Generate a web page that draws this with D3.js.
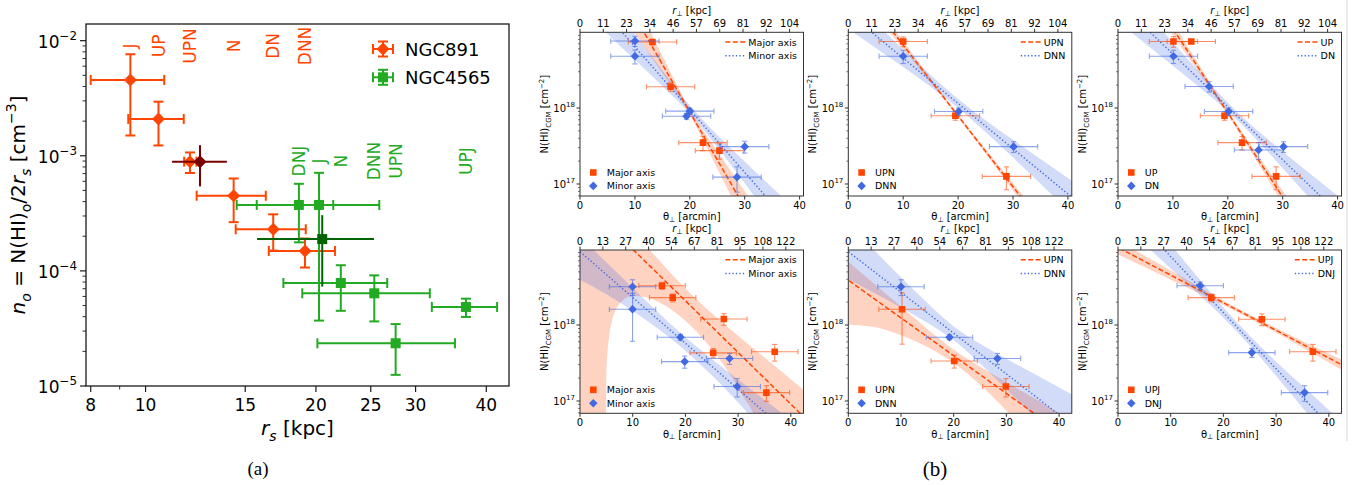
<!DOCTYPE html>
<html>
<head>
<meta charset="utf-8">
<script src="https://cdn.jsdelivr.net/npm/d3@7"></script>
<style>
  body { margin: 0; background: #fff; }
  svg { display: block; font-family: "DejaVu Sans", sans-serif; }
</style>
</head>
<body>
<div id="chart"></div>
<script>
// ---------- (a) n_o against r_s ----------
const n891Names = ["J", "UP", "UPN", "N", "DN", "DNN"];
const n891R     = [9.40, 10.54, 11.98, 14.31, 16.81, 19.13];
const n891RLo   = [8.00, 9.32, 11.70, 12.31, 14.43, 16.51];
const n891RHi   = [10.79, 11.68, 12.30, 16.31, 19.19, 21.61];
const n891N     = [4.56e-3, 2.09e-3, 8.89e-4, 4.50e-4, 2.30e-4, 1.49e-4];
const n891NErr  = [3.06e-3, 0.86e-3, 1.80e-4, 1.85e-4, 0.80e-4, 0.42e-4];
const n891AllR  = [12.48, 11.14, 13.92];   // value, low, high
const n891AllN  = [8.89e-4, 3.47e-4];      // value, error

const n4565Names = ["DNJ", "J", "N", "DNN", "UPN", "UPJ"];
const n4565R     = [18.66, 20.25, 22.13, 25.36, 27.66, 36.82];
const n4565RLo   = [14.49, 15.72, 17.52, 18.92, 20.12, 32.05];
const n4565RHi   = [21.46, 25.88, 26.73, 31.79, 35.21, 41.80];
const n4565N     = [3.74e-4, 3.74e-4, 7.85e-5, 6.39e-5, 2.35e-5, 4.86e-5];
const n4565NErr  = [1.97e-4, 3.37e-4, 3.35e-5, 2.75e-5, 1.10e-5, 0.88e-5];
const n4565AllR  = [20.52, 15.74, 25.33];
const n4565AllN  = [1.89e-4, 1.16e-4];

const aXTicks = [8, 10, 15, 20, 25, 30, 40];
const aXMinor = [9];
const aLabelY891 = 9e-3, aLabelY4565 = 9e-4;

// ---------- (b) N(HI)_CGM against theta ----------
const thetaErr = 4.4;
const bXTicks = [0, 10, 20, 30, 40];
const kpcTop    = ["0", "11", "23", "34", "46", "57", "69", "81", "92", "104"];
const kpcBottom = ["0", "13", "27", "40", "54", "67", "81", "95", "108", "122"];
const bandTh = [0, 5, 10, 15, 20, 25, 30, 35, 40, 45];

// panel 1: major vs minor axis
const p1Names = ["Major axis", "Minor axis"];
const p1ATh = [13.2, 16.5, 22.4, 25.4];
const p1AN  = [7.4e18, 1.9e18, 3.5e17, 2.75e17];
const p1AErr = [0.6e18, 0.24e18, 0.75e17, 0.63e17];
const p1BTh = [10.0, 10.0, 20.0, 19.4, 30.0, 28.6];
const p1BN  = [7.6e18, 4.8e18, 9.1e17, 7.8e17, 3.1e17, 1.23e17];
const p1BErr = [1.15e18, 1.0e18, 0.8e17, 0.7e17, 0.55e17, 0.45e17];
const p1AFit = [[11.64, 9.91e18], [28.8, 6.95e16]];
const p1BFit = [[7.7, 9.91e18], [33.76, 6.95e16]];
const p1AW = [.42, .317, .214, .114, .04, .114, .214, .317, .42, .53];
const p1BW = [.32, .245, .172, .103, .052, .078, .142, .215, .29, .365];

// panel 2: UPN vs DNN
const p2Names = ["UPN", "DNN"];
const p2ATh = [10.0, 19.5, 28.8];
const p2AN  = [7.5e18, 7.9e17, 1.26e17];
const p2AErr = [1.1e18, 1.0e17, 0.42e17];
const p2BTh = [10.0, 20.1, 30.1];
const p2BN  = [4.8e18, 9.0e17, 3.1e17];
const p2BErr = [0.95e18, 1.0e17, 0.5e17];
const p2AFit = [[8.2, 9.91e18], [31.3, 6.95e16]];
const p2BFit = [[4.27, 9.91e18], [40.15, 7.24e16]];
const p2AW = [.094, .072, .05, .031, .02, .031, .05, .072, .094, .117];
const p2BW = [.209, .162, .117, .078, .06, .078, .117, .162, .209, .257];

// panel 3: UP vs DN
const p3Names = ["UP", "DN"];
const p3ATh = [10.1, 13.35, 19.4, 22.6, 28.8];
const p3AN  = [7.5e18, 7.5e18, 7.9e17, 3.5e17, 1.26e17];
const p3AErr = [1.2e18, 0.5e18, 1.0e17, 0.7e17, 0.42e17];
const p3BTh = [10.1, 16.6, 20.15, 25.6, 30.15];
const p3BN  = [4.8e18, 1.92e18, 9.0e17, 2.8e17, 3.1e17];
const p3BErr = [0.95e18, 0.3e18, 1.0e17, 0.7e17, 0.5e17];
const p3AFit = [[10.44, 9.91e18], [29.87, 6.95e16]];
const p3BFit = [[5.88, 9.91e18], [36.85, 6.95e16]];
const p3AW = [.158, .12, .084, .05, .03, .05, .084, .12, .158, .197];
const p3BW = [.27, .211, .153, .098, .056, .063, .11, .165, .222, .281];

// panel 4: major vs minor axis (second galaxy)
const p4Names = ["Major axis", "Minor axis"];
const p4ATh = [15.56, 17.59, 27.3, 25.27, 36.95, 35.37];
const p4AN  = [3.29e18, 2.29e18, 1.2e18, 4.3e17, 4.45e17, 1.29e17];
const p4AErr = [0.35e18, 0.27e18, 0.21e18, 0.6e17, 1.1e17, 0.3e17];
const p4BTh = [9.97, 9.97, 19.05, 19.87, 28.38, 29.84];
const p4BN  = [3.19e18, 1.61e18, 6.9e17, 3.3e17, 3.63e17, 1.55e17];
const p4BErr = [0.75e18, 1.0e18, 0.6e17, 0.6e17, 0.6e17, 0.42e17];
const p4AFit = [[10.16, 9.70e18], [41.46, 7.24e16]];
const p4BFit = [[0, 9.23e18], [35.24, 6.92e16]];
const p4ABandTh = [0, 4.8, 5, 5.5, 6, 7, 8, 10, 15, 20, 25, 30, 35, 40, 45];
const p4ALo = [-9, -9, -2.0, -1.47, -1.24, -.975, -.817, -.614, -.358, -.263, -.298, -.469, -.92, -9, -9];
const p4AHi = [.35, .301, .299, .294, .288, .277, .267, .245, .194, .163, .175, .22, .274, .327, .376];
const p4BLo = [-.37, -.26, -.177, -.12, -.097, -.12, -.177, -.26, -.37, -.523];
const p4BHi = [.197, .161, .126, .094, .079, .094, .126, .161, .197, .23];

// panel 5: UPN vs DNN
const p5Names = ["UPN", "DNN"];
const p5ATh = [10.2, 20.1, 29.9];
const p5AN  = [1.61e18, 3.36e17, 1.55e17];
const p5AErr = [1.05e18, 0.65e17, 0.42e17];
const p5BTh = [10.0, 19.2, 28.3];
const p5BN  = [3.19e18, 6.9e17, 3.63e17];
const p5BErr = [0.75e18, 0.5e17, 0.6e17];
const p5AFit = [[0, 3.89e18], [35.2, 6.92e16]];
const p5BFit = [[0, 9.23e18], [39.6, 6.92e16]];
const p5ALo = [-.585, -.368, -.228, -.135, -.097, -.135, -.228, -.368, -.585, -1.06];
const p5AHi = [.241, .196, .149, .103, .079, .103, .149, .196, .241, .282];
const p5BW = [.36, .28, .2, .13, .09, .13, .2, .28, .36, .445];

// panel 6: UPJ vs DNJ
const p6Names = ["UPJ", "DNJ"];
const p6ATh = [17.7, 27.3, 36.97];
const p6AN  = [2.29e18, 1.19e18, 4.45e17];
const p6AErr = [0.27e18, 0.21e18, 1.1e17];
const p6BTh = [15.6, 25.4, 35.4];
const p6BN  = [3.29e18, 4.33e17, 1.29e17];
const p6BErr = [0.4e18, 0.6e17, 0.3e17];
const p6AFit = [[1.27, 9.42e18], [42.35, 3.02e17]];
const p6BFit = [[8.85, 9.70e18], [37.9, 6.92e16]];
const p6AW = [.092, .076, .06, .043, .03, .025, .03, .043, .06, .076];
const p6BW = [.26, .208, .157, .108, .068, .064, .094, .145, .197, .25];

// ---------- setup ----------
const W = 1368, H = 485;
const orange = "#ff4500", green = "#22aa22", darkRed = "#7a0000", darkGreen = "#006400", blue = "#4169e1";
const ink = "#1a1a1a";

const svg = d3.select("#chart").append("svg")
  .attr("width", W).attr("height", H);

// text with sub / superscripts, parts: {t, it, sub, sup}
function rich(sel, parts, size, subK = 0.28) {
  let shift = 0;
  parts.forEach(p => {
    const ts = sel.append("tspan").text(p.t);
    const target = p.sub ? size * subK : p.sup ? -size * 0.45 : 0;
    if (target !== shift) { ts.attr("dy", target - shift); shift = target; }
    if (p.sub || p.sup) ts.attr("font-size", size * 0.7);
    if (p.it) ts.attr("font-style", "italic");
  });
}

function errbar(g, cx, cy, xl, xr, yt, yb, color, cap, lw, op) {
  const e = g.append("g").attr("stroke", color).attr("stroke-width", lw).attr("opacity", op);
  e.append("line").attr("x1", xl).attr("x2", xr).attr("y1", cy).attr("y2", cy);
  e.append("line").attr("x1", cx).attr("x2", cx).attr("y1", yt).attr("y2", yb);
  if (cap > 0) {
    e.append("line").attr("x1", xl).attr("x2", xl).attr("y1", cy - cap).attr("y2", cy + cap);
    e.append("line").attr("x1", xr).attr("x2", xr).attr("y1", cy - cap).attr("y2", cy + cap);
    e.append("line").attr("x1", cx - cap).attr("x2", cx + cap).attr("y1", yt).attr("y2", yt);
    e.append("line").attr("x1", cx - cap).attr("x2", cx + cap).attr("y1", yb).attr("y2", yb);
  }
}

const diamond = s => `M0,${-s}L${s},0L0,${s}L${-s},0Z`;
const square = s => `M${-s},${-s}H${s}V${s}H${-s}Z`;

// ---------- panel (a) ----------
const ax = { left: 86, right: 509, top: 24, bottom: 386 };
const xA = d3.scaleLog().domain([7.848, 43.87]).range([ax.left, ax.right]);
const yA = d3.scaleLog().domain([1e-5, 0.01396]).range([ax.bottom, ax.top]);
const ga = svg.append("g");

// x ticks
aXTicks.concat(aXMinor).forEach(v => {
  const major = aXTicks.includes(v);
  ga.append("line").attr("x1", xA(v)).attr("x2", xA(v))
    .attr("y1", ax.bottom).attr("y2", ax.bottom + (major ? 6 : 3.5))
    .attr("stroke", ink).attr("stroke-width", major ? 1.2 : 0.9);
  if (major) ga.append("text").attr("x", xA(v)).attr("y", ax.bottom + 25)
    .attr("text-anchor", "middle").attr("font-size", 17).text(v);
});
// y ticks
[-5, -4, -3, -2].forEach(e => {
  for (let m = 1; m < 10; m++) {
    const v = m * Math.pow(10, e);
    if (v > yA.domain()[1]) break;
    ga.append("line").attr("x1", ax.left).attr("x2", ax.left - (m === 1 ? 6 : 3.5))
      .attr("y1", yA(v)).attr("y2", yA(v))
      .attr("stroke", ink).attr("stroke-width", m === 1 ? 1.2 : 0.9);
  }
  const t = ga.append("text").attr("x", ax.left - 9).attr("y", yA(Math.pow(10, e)) + 7)
    .attr("text-anchor", "end").attr("font-size", 17);
  rich(t, [{ t: "10" }, { t: "\u2212" + (-e), sup: true }], 17);
});

// labels of the sightlines
function segLabels(names, rs, yv, color) {
  names.forEach((n, i) => {
    ga.append("text")
      .attr("transform", `translate(${xA(rs[i])},${yA(yv)}) rotate(-90)`)
      .attr("text-anchor", "middle").attr("dy", "0.36em")
      .attr("font-size", 17).attr("fill", color).text(n);
  });
}
segLabels(n891Names, n891R, aLabelY891, orange);
segLabels(n4565Names, n4565R, aLabelY4565, green);

// error bars + markers
function seriesA(rs, lo, hi, ns, errs, color, shape, size) {
  rs.forEach((r, i) => {
    errbar(ga, xA(r), yA(ns[i]), xA(lo[i]), xA(hi[i]),
      yA(ns[i] + errs[i]), yA(ns[i] - errs[i]), color, 5, 2, 1);
  });
  rs.forEach((r, i) => {
    ga.append("path").attr("d", shape(size))
      .attr("transform", `translate(${xA(r)},${yA(ns[i])})`).attr("fill", color);
  });
}
seriesA(n891R, n891RLo, n891RHi, n891N, n891NErr, orange, diamond, 6.5);
seriesA(n4565R, n4565RLo, n4565RHi, n4565N, n4565NErr, green, square, 5);
// combined points, no caps
errbar(ga, xA(n891AllR[0]), yA(n891AllN[0]), xA(n891AllR[1]), xA(n891AllR[2]),
  yA(n891AllN[0] + n891AllN[1]), yA(n891AllN[0] - n891AllN[1]), darkRed, 0, 2, 1);
ga.append("path").attr("d", diamond(6.5))
  .attr("transform", `translate(${xA(n891AllR[0])},${yA(n891AllN[0])})`).attr("fill", darkRed);
errbar(ga, xA(n4565AllR[0]), yA(n4565AllN[0]), xA(n4565AllR[1]), xA(n4565AllR[2]),
  yA(n4565AllN[0] + n4565AllN[1]), yA(n4565AllN[0] - n4565AllN[1]), darkGreen, 0, 2, 1);
ga.append("path").attr("d", square(5))
  .attr("transform", `translate(${xA(n4565AllR[0])},${yA(n4565AllN[0])})`).attr("fill", darkGreen);

// frame
ga.append("rect").attr("x", ax.left).attr("y", ax.top)
  .attr("width", ax.right - ax.left).attr("height", ax.bottom - ax.top)
  .attr("fill", "none").attr("stroke", ink).attr("stroke-width", 1.3);

// legend
[["NGC891", orange, diamond, 6.5, 49], ["NGC4565", green, square, 5, 77.3]].forEach(d => {
  const lx = 383, ly = d[4];
  errbar(ga, lx, ly, lx - 10, lx + 10, ly - 7.5, ly + 7.5, d[1], 5, 2, 1);
  ga.append("path").attr("d", d[2](d[3])).attr("transform", `translate(${lx},${ly})`).attr("fill", d[1]);
  ga.append("text").attr("x", 405).attr("y", ly + 6.5).attr("font-size", 18).text(d[0]);
});

// axis titles
const xt = ga.append("text").attr("x", (ax.left + ax.right) / 2).attr("y", 435)
  .attr("text-anchor", "middle").attr("font-size", 20);
rich(xt, [{ t: "r", it: true }, { t: "s", it: true, sub: true }, { t: " [kpc]" }], 20);
const yt = ga.append("text").attr("transform", `translate(25,${(ax.top + ax.bottom) / 2}) rotate(-90)`)
  .attr("text-anchor", "middle").attr("font-size", 20);
rich(yt, [{ t: "n", it: true }, { t: "o", it: true, sub: true }, { t: " = N(HI)" }, { t: "o", sub: true },
  { t: "/2" }, { t: "r", it: true }, { t: "s", it: true, sub: true }, { t: " [cm" },
  { t: "\u22123", sup: true }, { t: "]" }], 20);

svg.append("text").attr("x", 258).attr("y", 475).attr("text-anchor", "middle")
  .attr("font-family", "'Liberation Serif', serif").attr("font-size", 19).text("(a)");
svg.append("text").attr("x", 935).attr("y", 476).attr("text-anchor", "middle")
  .attr("font-family", "'Liberation Serif', serif").attr("font-size", 21).text("(b)");

// ---------- panel (b) ----------
const colLeft = [580, 848.3, 1118];
const pw = 223.5;
const rowsB = [
  { top: 32.3, h: 163.7, thMax: 40.71, logMin: 16.842, logMax: 18.996, step: 4.242, kpc: kpcTop },
  { top: 250, h: 163.3, thMax: 42.41, logMin: 16.838, logMax: 18.987, step: 4.339, kpc: kpcBottom }
];
const sym = w => ({ th: bandTh, lo: w.map(v => -v), hi: w });
const panels = [
  { row: 0, col: 0, names: p1Names, A: [p1ATh, p1AN, p1AErr], B: [p1BTh, p1BN, p1BErr], fitA: p1AFit, fitB: p1BFit, bandA: sym(p1AW), bandB: sym(p1BW) },
  { row: 0, col: 1, names: p2Names, A: [p2ATh, p2AN, p2AErr], B: [p2BTh, p2BN, p2BErr], fitA: p2AFit, fitB: p2BFit, bandA: sym(p2AW), bandB: sym(p2BW) },
  { row: 0, col: 2, names: p3Names, A: [p3ATh, p3AN, p3AErr], B: [p3BTh, p3BN, p3BErr], fitA: p3AFit, fitB: p3BFit, bandA: sym(p3AW), bandB: sym(p3BW) },
  { row: 1, col: 0, names: p4Names, A: [p4ATh, p4AN, p4AErr], B: [p4BTh, p4BN, p4BErr], fitA: p4AFit, fitB: p4BFit,
    bandA: { th: p4ABandTh, lo: p4ALo, hi: p4AHi }, bandB: { th: bandTh, lo: p4BLo, hi: p4BHi } },
  { row: 1, col: 1, names: p5Names, A: [p5ATh, p5AN, p5AErr], B: [p5BTh, p5BN, p5BErr], fitA: p5AFit, fitB: p5BFit,
    bandA: { th: bandTh, lo: p5ALo, hi: p5AHi }, bandB: sym(p5BW) },
  { row: 1, col: 2, names: p6Names, A: [p6ATh, p6AN, p6AErr], B: [p6BTh, p6BN, p6BErr], fitA: p6AFit, fitB: p6BFit, bandA: sym(p6AW), bandB: sym(p6BW) }
];

panels.forEach((p, k) => {
  const R = rowsB[p.row];
  const left = colLeft[p.col], right = left + pw, top = R.top, bottom = R.top + R.h;
  const x = d3.scaleLinear().domain([0, R.thMax]).range([left, right]);
  const y = d3.scaleLog().domain([Math.pow(10, R.logMin), Math.pow(10, R.logMax)]).range([bottom, top]);
  const g = svg.append("g");
  const cid = "clipb" + k;
  svg.append("clipPath").attr("id", cid).append("rect")
    .attr("x", left).attr("y", top).attr("width", pw).attr("height", R.h);
  const plot = g.append("g").attr("clip-path", `url(#${cid})`);

  const logAt = (fit, t) => {
    const a = Math.log10(fit[0][1]), b = Math.log10(fit[1][1]);
    return a + (b - a) * (t - fit[0][0]) / (fit[1][0] - fit[0][0]);
  };

  // confidence bands
  [[p.fitA, p.bandA, orange], [p.fitB, p.bandB, blue]].forEach(([fit, band, col]) => {
    const pts = band.th.map((t, i) => ({ t, lo: band.lo[i], hi: band.hi[i] }));
    plot.append("path").datum(pts)
      .attr("d", d3.area().curve(d3.curveMonotoneX)
        .x(d => x(d.t))
        .y0(d => y(Math.pow(10, logAt(fit, d.t) + d.lo)))
        .y1(d => y(Math.pow(10, logAt(fit, d.t) + d.hi))))
      .attr("fill", col).attr("fill-opacity", 0.24).attr("stroke", "none");
  });

  // fit lines
  [[p.fitA, orange, "5,2.4"], [p.fitB, blue, "1.3,2.2"]].forEach(([fit, col, dash]) => {
    const ends = [-1, R.thMax + 1].map(t => ({ t, v: Math.pow(10, logAt(fit, t)) }));
    plot.append("path").datum(ends)
      .attr("d", d3.line().x(d => x(d.t)).y(d => y(d.v)))
      .attr("fill", "none").attr("stroke", col).attr("stroke-width", 1.5).attr("stroke-dasharray", dash);
  });

  // points
  const drawSeries = (s, col, shape, size) => {
    s[0].forEach((t, i) => {
      errbar(plot, x(t), y(s[1][i]), x(t - thetaErr), x(t + thetaErr),
        y(s[1][i] + s[2][i]), y(s[1][i] - s[2][i]), col, 2.6, 1.1, 0.6);
    });
    s[0].forEach((t, i) => {
      plot.append("path").attr("d", shape(size))
        .attr("transform", `translate(${x(t)},${y(s[1][i])})`).attr("fill", col);
    });
  };
  drawSeries(p.A, orange, square, 3.3);
  drawSeries(p.B, blue, diamond, 4.3);

  // axes: bottom theta
  bXTicks.forEach(v => {
    g.append("line").attr("x1", x(v)).attr("x2", x(v)).attr("y1", bottom).attr("y2", bottom + 3.5)
      .attr("stroke", ink).attr("stroke-width", 0.9);
    g.append("text").attr("x", x(v)).attr("y", bottom + 12.5).attr("text-anchor", "middle")
      .attr("font-size", 10).text(v);
  });
  // top kpc
  R.kpc.forEach((lab, i) => {
    const xx = x(i * R.step);
    g.append("line").attr("x1", xx).attr("x2", xx).attr("y1", top).attr("y2", top - 3.5)
      .attr("stroke", ink).attr("stroke-width", 0.9);
    g.append("text").attr("x", xx).attr("y", top - 5).attr("text-anchor", "middle")
      .attr("font-size", 10).text(lab);
  });
  // left log ticks
  [16, 17, 18].forEach(e => {
    for (let m = 1; m < 10; m++) {
      const v = m * Math.pow(10, e);
      if (v < y.domain()[0] || v > y.domain()[1]) continue;
      g.append("line").attr("x1", left).attr("x2", left - (m === 1 ? 3.5 : 2))
        .attr("y1", y(v)).attr("y2", y(v)).attr("stroke", ink).attr("stroke-width", m === 1 ? 0.9 : 0.6);
      if (m === 1) {
        const t = g.append("text").attr("x", left - 5).attr("y", y(v) + 3.6)
          .attr("text-anchor", "end").attr("font-size", 10);
        rich(t, [{ t: "10" }, { t: String(e), sup: true }], 10);
      }
    }
  });
  g.append("rect").attr("x", left).attr("y", top).attr("width", pw).attr("height", R.h)
    .attr("fill", "none").attr("stroke", "#333").attr("stroke-width", 1);

  // axis titles
  const cx = (left + right) / 2;
  const tt = g.append("text").attr("x", cx).attr("y", top - 18).attr("text-anchor", "middle").attr("font-size", 10);
  rich(tt, [{ t: "r", it: true }, { t: "\u22a5", sub: true }, { t: " [kpc]" }], 10, 0.15);
  const bt = g.append("text").attr("x", cx).attr("y", bottom + 24.3).attr("text-anchor", "middle").attr("font-size", 10);
  rich(bt, [{ t: "\u03b8" }, { t: "\u22a5", sub: true }, { t: " [arcmin]" }], 10, 0.15);
  const lt = g.append("text").attr("transform", `translate(${left - 32},${(top + bottom) / 2}) rotate(-90)`)
    .attr("text-anchor", "middle").attr("font-size", 10);
  rich(lt, [{ t: "N(HI)" }, { t: "CGM", sub: true }, { t: " [cm" }, { t: "\u22122", sup: true }, { t: "]" }], 10);

  // legend: fit lines, upper right
  const lg = g.append("g");
  const texts = p.names.map((n, i) => lg.append("text").attr("y", top + 9.7 + i * 13.7 + 3.5)
    .attr("font-size", 9.5).text(n));
  const maxW = d3.max(texts, t => t.node().getComputedTextLength());
  const tx = right - 6.5 - maxW;
  texts.forEach(t => t.attr("x", tx));
  [[orange, "5,2.4"], [blue, "1.3,2.2"]].forEach(([col, dash], i) => {
    lg.append("line").attr("x1", tx - 23).attr("x2", tx - 3)
      .attr("y1", top + 9.7 + i * 13.7).attr("y2", top + 9.7 + i * 13.7)
      .attr("stroke", col).attr("stroke-width", 1.5).attr("stroke-dasharray", dash);
  });
  // legend: markers, lower left
  [[orange, square, 3.3], [blue, diamond, 4.3]].forEach(([col, shape, s], i) => {
    const ly = bottom - 23.5 + i * 13.4;
    g.append("path").attr("d", shape(s)).attr("transform", `translate(${left + 13.3},${ly})`).attr("fill", col);
    g.append("text").attr("x", left + 26.7).attr("y", ly + 3.5).attr("font-size", 9.5).text(p.names[i]);
  });
});

// thin separator on the right
svg.append("line").attr("x1", 1347).attr("x2", 1347).attr("y1", 0).attr("y2", 441)
  .attr("stroke", "#d8d8d8").attr("stroke-width", 1);
</script>
</body>
</html>
